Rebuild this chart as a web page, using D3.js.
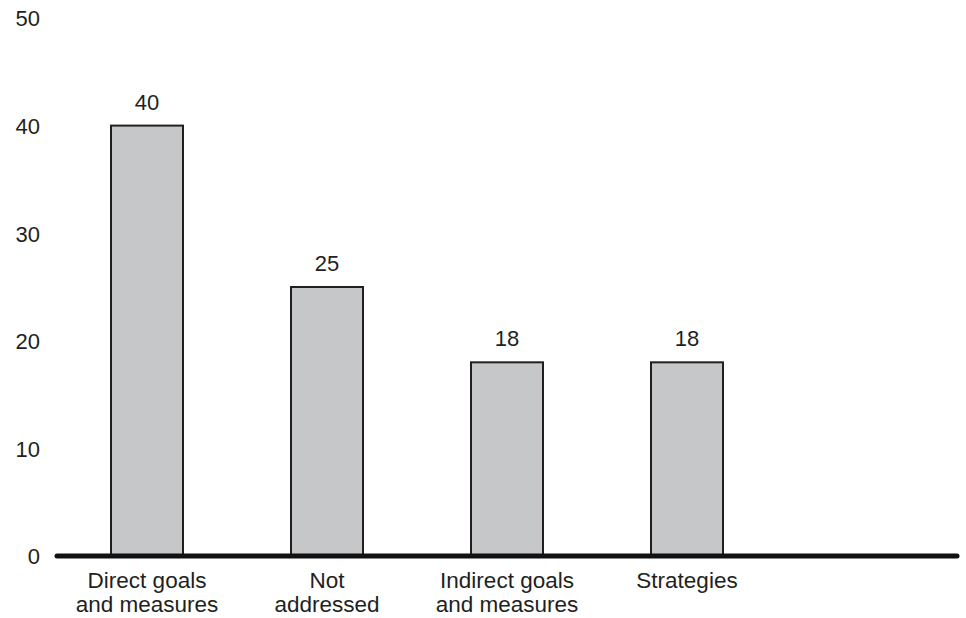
<!DOCTYPE html>
<html>
<head>
<meta charset="utf-8">
<script src="https://cdn.jsdelivr.net/npm/d3@7"></script>
<style>
  html, body { margin: 0; padding: 0; background: #fff; }
  svg { display: block; font-family: "Liberation Sans", Arial, Helvetica, sans-serif; }
</style>
</head>
<body>
<svg id="chart" width="966" height="618"></svg>
<script>
// Chart data
const categories = ["Direct goals|and measures", "Not|addressed", "Indirect goals|and measures", "Strategies"];
const values = [40, 25, 18, 18];
const yTicks = [0, 10, 20, 30, 40, 50];

const ink = "#231f20";
const svg = d3.select("#chart");

const x = d3.scaleBand()
  .domain(categories)
  .range([57, 777])
  .paddingInner(0.6)
  .paddingOuter(0.3);

const y = d3.scaleLinear()
  .domain([0, 50])
  .range([556, 18]);

// Y axis: labels only
const yAxis = svg.append("g")
  .attr("transform", "translate(40,0)")
  .call(d3.axisLeft(y).tickValues(yTicks).tickSize(0).tickPadding(0));
yAxis.select(".domain").remove();
yAxis.selectAll("text")
  .attr("fill", ink)
  .style("font-size", "22px")
  .attr("dy", "0.36em");

// Bars
const data = categories.map((c, i) => ({ c, v: values[i] }));
svg.append("g").selectAll("rect")
  .data(data)
  .join("rect")
  .attr("x", d => x(d.c))
  .attr("y", d => y(d.v))
  .attr("width", x.bandwidth())
  .attr("height", d => y(0) - y(d.v))
  .attr("fill", "#c6c7c9")
  .attr("stroke", ink)
  .attr("stroke-width", 2);

// Value labels
svg.append("g").selectAll("text")
  .data(data)
  .join("text")
  .attr("x", d => x(d.c) + x.bandwidth() / 2)
  .attr("y", d => y(d.v) - 16)
  .attr("text-anchor", "middle")
  .attr("fill", ink)
  .style("font-size", "22px")
  .text(d => d.v);

// Baseline
svg.append("line")
  .attr("x1", 57).attr("x2", 957)
  .attr("y1", y(0)).attr("y2", y(0))
  .attr("stroke", "#111")
  .attr("stroke-width", 5)
  .attr("stroke-linecap", "round");

// X axis category labels (two lines)
const xAxis = svg.append("g")
  .attr("transform", `translate(0,${y(0)})`)
  .call(d3.axisBottom(x).tickSize(0).tickPadding(0));
xAxis.select(".domain").remove();
xAxis.selectAll(".tick text").each(function(d) {
  const t = d3.select(this);
  t.text(null).attr("y", 0).attr("dy", null)
    .attr("fill", ink)
    .style("font-size", "22.5px");
  d.split("|").forEach((line, i) => {
    t.append("tspan")
      .attr("x", 0)
      .attr("y", 32 + i * 24)
      .text(line);
  });
});
</script>
</body>
</html>
